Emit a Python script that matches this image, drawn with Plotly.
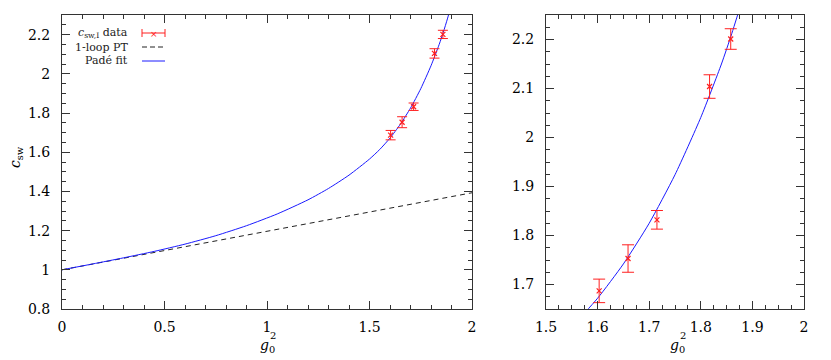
import plotly.graph_objects as go
from plotly.subplots import make_subplots

# measured c_sw,I points
g2_data = [1.603, 1.659, 1.715, 1.817, 1.858]
csw_data = [1.687, 1.753, 1.832, 2.104, 2.201]
csw_err = [0.024, 0.028, 0.019, 0.024, 0.021]

# 1-loop perturbation theory line (end points)
pt_g2 = [0.0, 2.0]
pt_csw = [1.0, 1.393]

# Padé fit curve
pade_g2 = [0.0, 0.15, 0.3, 0.45, 0.6, 0.75, 0.9, 1.05, 1.2, 1.3, 1.4,
           1.5, 1.55, 1.6, 1.65, 1.7, 1.75, 1.8, 1.84, 1.86, 1.88, 1.9]
pade_csw = [1.0, 1.03, 1.061, 1.094, 1.131, 1.174, 1.225, 1.285, 1.357, 1.415, 1.483,
            1.565, 1.614, 1.672, 1.742, 1.825, 1.924, 2.041, 2.15, 2.212, 2.28, 2.355]

# the page body adds an 8px offset, so the figure is drawn 8px smaller
OFF = 8
W, H = 831 - OFF, 360 - OFF
ML, MR, MT, MB = 62 - OFF, 831 - 804, 15 - OFF, 360 - 309
PW, PH = W - ML - MR, H - MT - MB
FONT = "DejaVu Serif"
AX = "#333333"
RED = "#ff2020"
BLUE = "#1a1aff"


def px(x):
    # reference pixel -> paper fraction
    return (x - OFF - ML) / PW


def py(y):
    return 1 - (y - OFF - MT) / PH


fig = make_subplots(rows=1, cols=2)

for col in (1, 2):
    fig.add_trace(go.Scatter(
        x=pt_g2, y=pt_csw, mode="lines",
        line=dict(color="#222222", width=1, dash="5px,4px"),
        showlegend=False, hoverinfo="skip"), row=1, col=col)
    fig.add_trace(go.Scatter(
        x=pade_g2, y=pade_csw, mode="lines",
        line=dict(color=BLUE, width=1, shape="spline", smoothing=0.6),
        showlegend=False, hoverinfo="skip"), row=1, col=col)
    fig.add_trace(go.Scatter(
        x=g2_data, y=csw_data, mode="markers",
        marker=dict(symbol="x-thin", size=5, line=dict(color=RED, width=1.2), color=RED),
        error_y=dict(type="data", array=csw_err, color=RED, thickness=1,
                     width=5 if col == 1 else 6),
        showlegend=False), row=1, col=col)

axis_common = dict(
    showline=True, linecolor=AX, linewidth=1, mirror="allticks",
    ticks="inside", ticklen=8, tickcolor=AX, tickwidth=1,
    showgrid=False, zeroline=False, automargin=False,
    tickfont=dict(family=FONT, size=14, color="black"),
)

fig.update_xaxes(axis_common)
fig.update_yaxes(axis_common)

fig.update_xaxes(range=[0, 2], dtick=0.5, tick0=0, ticklabelstandoff=5,
                 minor=dict(dtick=0.1, tick0=0, ticks="inside", ticklen=4, tickcolor=AX),
                 domain=[0, px(472)], row=1, col=1)
fig.update_yaxes(range=[0.8, 2.3], dtick=0.2, tick0=0.8, ticklabelstandoff=8,
                 minor=dict(dtick=0.05, tick0=0.8, ticks="inside", ticklen=4, tickcolor=AX),
                 domain=[0, 1], row=1, col=1)
fig.update_xaxes(range=[1.5, 2], dtick=0.1, tick0=1.5, ticklabelstandoff=5,
                 minor=dict(dtick=0.025, tick0=1.5, ticks="inside", ticklen=4, tickcolor=AX),
                 domain=[px(546), 1], row=1, col=2)
fig.update_yaxes(range=[1.65, 2.25], dtick=0.1, tick0=1.7, ticklabelstandoff=8,
                 minor=dict(dtick=0.025, tick0=1.65, ticks="inside", ticklen=4, tickcolor=AX),
                 domain=[0, 1], row=1, col=2)

# axis titles; g_0^2 built with the exponent stacked over the subscript
annotations = [
    dict(text="<i>c</i><sub>sw</sub>", x=px(16), y=py(157), textangle=-90, size=14),
    dict(text="<i>g</i><sub>0</sub>", x=px(267), y=py(346), size=14),
    dict(text="2", x=px(273), y=py(335), size=10),
    dict(text="<i>g</i><sub>0</sub>", x=px(677), y=py(346), size=14),
    dict(text="2", x=px(683), y=py(335), size=10),
]
for a in annotations:
    size = a.pop("size")
    fig.add_annotation(xref="paper", yref="paper", showarrow=False,
                       xanchor="center", yanchor="middle",
                       font=dict(family=FONT, size=size, color="black"), **a)

# legend drawn by hand: text right-aligned, sample on the right (gnuplot style)
legend_rows = [
    ("<i>c</i><sub>sw,I</sub> data", 33),
    ("1-loop PT", 47),
    ("Padé fit", 61),
]
for text, yy in legend_rows:
    fig.add_annotation(xref="paper", yref="paper", showarrow=False,
                       x=px(130), y=py(yy), xanchor="right", yanchor="middle",
                       text=text, font=dict(family=FONT, size=11, color="#222222"))

x0, x1 = px(142), px(165)
shapes = [
    dict(x0=x0, x1=x1, y0=py(33), y1=py(33), line=dict(color=RED, width=1)),
    dict(x0=x0, x1=x0, y0=py(29), y1=py(37), line=dict(color=RED, width=1)),
    dict(x0=x1, x1=x1, y0=py(29), y1=py(37), line=dict(color=RED, width=1)),
    dict(x0=x0, x1=x1, y0=py(47), y1=py(47),
         line=dict(color="#222222", width=1, dash="5px,3px")),
    dict(x0=x0, x1=x1, y0=py(61), y1=py(61), line=dict(color=BLUE, width=1)),
]
for s in shapes:
    fig.add_shape(type="line", xref="paper", yref="paper", **s)
fig.add_annotation(xref="paper", yref="paper", showarrow=False,
                   x=(x0 + x1) / 2, y=py(33.5), xanchor="center", yanchor="middle",
                   text="×", font=dict(family="DejaVu Sans", size=9, color=RED))

fig.update_layout(
    width=W, height=H,
    margin=dict(l=ML, r=MR, t=MT, b=MB),
    paper_bgcolor="white", plot_bgcolor="white",
    showlegend=False,
)

fig.write_html("out.html")
